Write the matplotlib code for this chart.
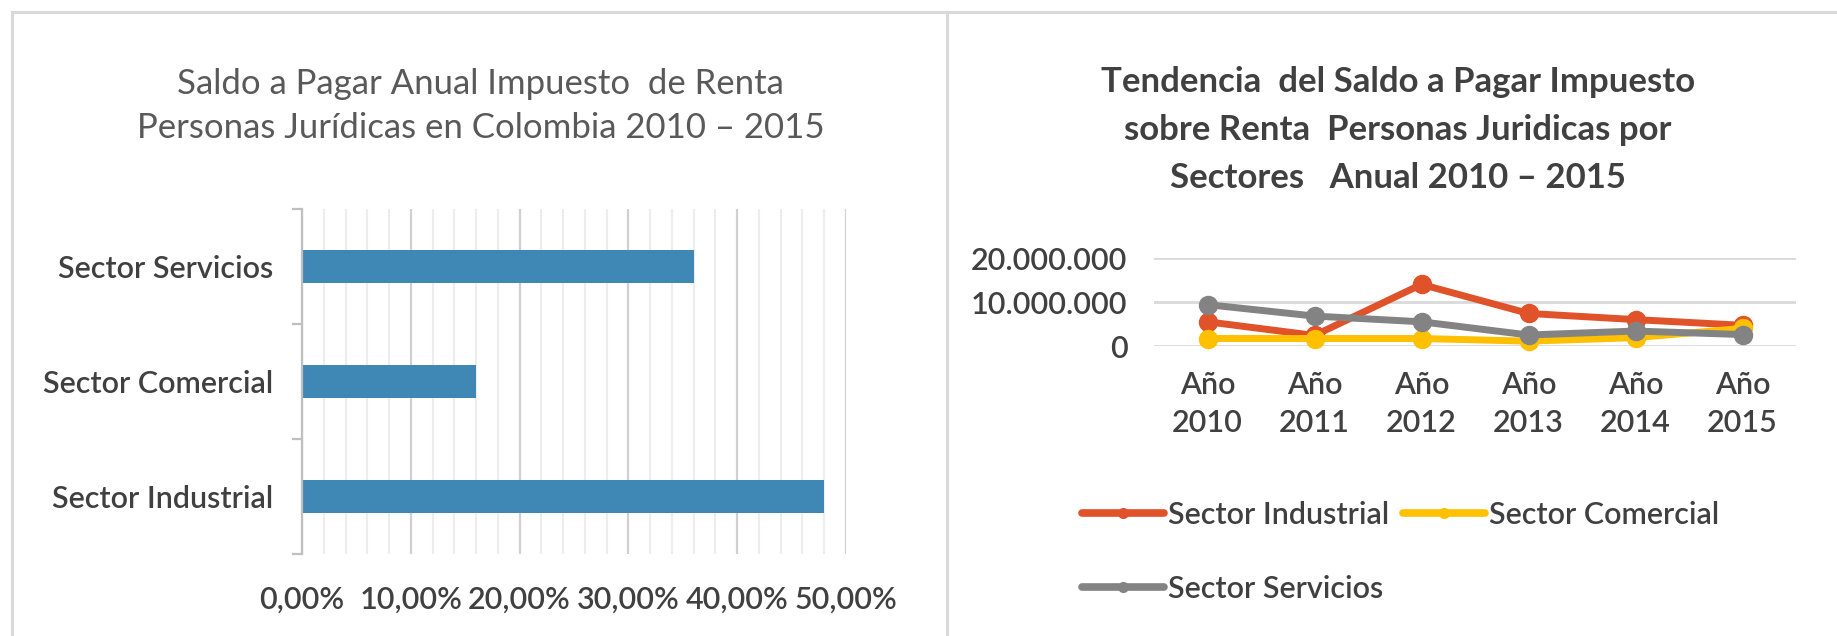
import matplotlib
matplotlib.use("Agg")
import matplotlib.pyplot as plt
from matplotlib.ticker import FixedLocator, MultipleLocator, FuncFormatter
from matplotlib.lines import Line2D
import numpy as np

plt.rcParams['font.family'] = ['Lato', 'DejaVu Sans']

# ---------------- data ----------------
sectors = ["Sector Industrial", "Sector Comercial", "Sector Servicios"]
share = [0.48, 0.16, 0.36]

years = ["Año\n2010", "Año\n2011", "Año\n2012", "Año\n2013", "Año\n2014", "Año\n2015"]
industrial = [5.5e6, 2.4e6, 14.0e6, 7.4e6, 6.0e6, 4.7e6]
comercial = [1.7e6, 1.7e6, 1.7e6, 1.1e6, 1.9e6, 4.0e6]
servicios = [9.4e6, 6.8e6, 5.5e6, 2.5e6, 3.4e6, 2.6e6]

left_title = ["Saldo a Pagar Anual Impuesto  de Renta",
              "Personas Jurídicas en Colombia 2010 – 2015"]
right_title = ["Tendencia  del Saldo a Pagar Impuesto",
               "sobre Renta  Personas Juridicas por",
               "Sectores   Anual 2010 – 2015"]

W, H = 1837, 636
fig = plt.figure(figsize=(W / 100, H / 100), dpi=100)

def fx(px):
    return px / W

def fy(py):
    return 1 - py / H

TXT = '#404040'
WT = 'semibold'
FS = 22

# panel borders
border = '#D9D9D9'
fig.add_artist(Line2D([fx(12), 1], [fy(12), fy(12)], color=border, lw=2.2))
fig.add_artist(Line2D([fx(12), fx(12)], [fy(12), 0], color=border, lw=2.2))
fig.add_artist(Line2D([fx(947), fx(947)], [fy(12), 0], color=border, lw=2.2))

# ---------------- left bar chart ----------------
axL = fig.add_axes([fx(302), fy(554), fx(846) - fx(302), (554 - 209) / H])
ypos = np.arange(len(sectors))
axL.barh(ypos, share, height=0.28, color='#3F87B4', zorder=3)
axL.set_xlim(0, 0.5)
axL.set_ylim(-0.5, 2.5)
axL.xaxis.set_major_locator(MultipleLocator(0.1))
axL.xaxis.set_minor_locator(MultipleLocator(0.02))
axL.grid(which='major', axis='x', color='#D0D0D0', lw=1.6, zorder=1)
axL.grid(which='minor', axis='x', color='#EDEDED', lw=1.6, zorder=0)
axL.xaxis.set_major_formatter(FuncFormatter(lambda v, p: f"{v*100:.2f}%".replace('.', ',')))
axL.tick_params(axis='x', which='both', length=0, pad=23, labelsize=FS, labelcolor=TXT)
axL.yaxis.set_major_locator(FixedLocator([-0.5, 0.5, 1.5, 2.5]))
axL.yaxis.set_major_formatter(FuncFormatter(lambda v, p: ""))
axL.set_yticks(ypos, minor=True)
axL.set_yticklabels(sectors, minor=True)
axL.tick_params(axis='y', which='major', length=7, width=1.6, color='#BFBFBF', direction='out')
axL.tick_params(axis='y', which='minor', length=0, pad=21, labelsize=FS, labelcolor=TXT)
for lab in axL.get_xticklabels() + axL.get_yticklabels(minor=True):
    lab.set_fontweight(WT)
for s in ['top', 'right', 'bottom']:
    axL.spines[s].set_visible(False)
axL.spines['left'].set_color('#BFBFBF')
axL.spines['left'].set_linewidth(1.6)
axL.spines['left'].set_zorder(4)

fig.text(fx(480), fy(84), left_title[0], ha='center', va='center', fontsize=25, color='#595959')
fig.text(fx(481), fy(128), left_title[1], ha='center', va='center', fontsize=25, color='#595959')

# ---------------- right line chart ----------------
axR = fig.add_axes([fx(1154), fy(346), fx(1796) - fx(1154), (346 - 258) / H])
x = np.arange(len(years))
series = [(industrial, '#E0522A', sectors[0]),
          (comercial, '#FFC000', sectors[1]),
          (servicios, '#838383', sectors[2])]
for vals, col, lab in series:
    axR.plot(x, vals, color=col, lw=5, marker='o', markersize=13, label=lab,
             clip_on=False, zorder=3, solid_capstyle='round')
axR.set_xlim(-0.5, len(years) - 0.5)
axR.set_ylim(0, 20e6)
axR.set_yticks([0, 10e6, 20e6])
axR.yaxis.set_major_formatter(FuncFormatter(lambda v, p: f"{int(v):,}".replace(',', '.')))
axR.grid(axis='y', color='#D9D9D9', lw=2, zorder=0)
axR.set_xticks(x)
axR.set_xticklabels(years, linespacing=1.43)
axR.tick_params(axis='x', length=0, pad=18, labelsize=FS, labelcolor=TXT)
axR.tick_params(axis='y', length=0, pad=19, labelsize=FS, labelcolor=TXT)
for lab in axR.get_xticklabels() + axR.get_yticklabels():
    lab.set_fontweight(WT)
for s in axR.spines.values():
    s.set_visible(False)

# legend filled row-wise: Industrial, Comercial / Servicios
order = [0, 2, 1]
handles = [Line2D([0], [0], color=series[i][1], lw=5.5, marker='o', markersize=7,
                  solid_capstyle='round') for i in order]
labels = [series[i][2] for i in order]
leg = fig.legend(handles, labels, loc='upper left', bbox_to_anchor=(fx(1082), fy(501)),
                 ncol=2, frameon=False, fontsize=FS, handlelength=2.68, handletextpad=0.13,
                 columnspacing=0.45, labelspacing=1.5, borderpad=0, borderaxespad=0)
for t in leg.get_texts():
    t.set_color(TXT)
    t.set_fontweight(WT)

for i, line in enumerate(right_title):
    fig.text(fx(1398), fy(82 + 48 * i), line, ha='center', va='center', fontsize=25,
             color=TXT, fontweight='bold')

fig.savefig('out.png', dpi=100)
